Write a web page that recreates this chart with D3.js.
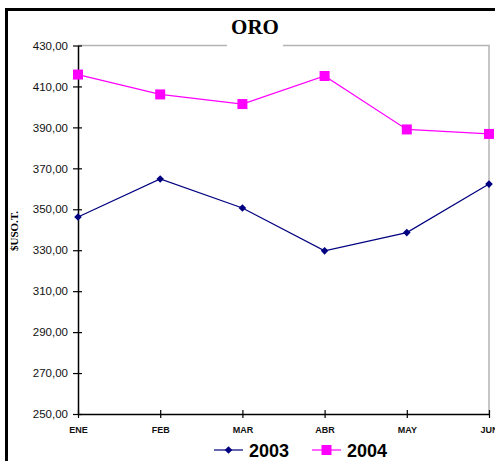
<!DOCTYPE html>
<html lang="es">
<head>
<meta charset="UTF-8" />
<script src="https://d3js.org/d3.v7.min.js"></script>
<style>
  body { margin: 0; background: #fff; }
  svg { display: block; }
</style>
</head>
<body>
<script>
  // data
  var months = ["ENE", "FEB", "MAR", "ABR", "MAY", "JUN"];
  var values2003 = [346.2, 364.8, 350.6, 329.7, 338.6, 362.3];
  var values2004 = [415.8, 406.1, 401.4, 415.1, 389.0, 386.8];
  var yTicks = [250, 270, 290, 310, 330, 350, 370, 390, 410, 430];

  var series = [
    { name: "2003", values: values2003, color: "#000080", marker: "diamond" },
    { name: "2004", values: values2004, color: "#FF00FF", marker: "square" }
  ];

  var width = 495, height = 461;
  var margin = { top: 45.5, right: 6, bottom: 47, left: 78 };

  var svg = d3.select("body").append("svg")
    .attr("width", width)
    .attr("height", height);

  // outer frame (cut by the window on the right and bottom)
  svg.append("path")
    .attr("d", "M6.5,470V9.5H520")
    .attr("fill", "none")
    .attr("stroke", "#000")
    .attr("stroke-width", 3);

  var x = d3.scalePoint()
    .domain(months)
    .range([margin.left, width - margin.right]);

  var y = d3.scaleLinear()
    .domain([250, 430])
    .range([height - margin.bottom, margin.top]);

  // plot area frame (top and right in grey)
  svg.append("path")
    .attr("d", "M" + x.range()[0] + "," + y(430) + "H" + x.range()[1] + "V" + y(250))
    .attr("fill", "none")
    .attr("stroke", "#b4b4b4")
    .attr("stroke-width", 1.5);

  // y axis
  var yAxis = svg.append("g")
    .attr("transform", "translate(" + x.range()[0] + ",0)")
    .call(d3.axisLeft(y).tickValues(yTicks).tickSize(0)
      .tickFormat(function (d) { return d3.format(".2f")(d).replace(".", ","); }));
  yAxis.select(".domain").attr("stroke", "#000").attr("stroke-width", 1.5);
  yAxis.selectAll(".tick text")
    .attr("x", -10)
    .style("font-family", "Liberation Sans, Arial, sans-serif")
    .style("font-size", "11.5px")
    .attr("fill", "#111");
  yAxis.selectAll(".tick").append("line")
    .attr("x1", -5).attr("x2", 4)
    .attr("stroke", "#000").attr("stroke-width", 1.2);

  // x axis
  var xAxis = svg.append("g")
    .attr("transform", "translate(0," + y(250) + ")")
    .call(d3.axisBottom(x).tickSize(0));
  xAxis.select(".domain").attr("stroke", "#000").attr("stroke-width", 1.5);
  xAxis.selectAll(".tick").append("line")
    .attr("y1", -4).attr("y2", 4)
    .attr("stroke", "#000").attr("stroke-width", 1.2);
  xAxis.selectAll(".tick text")
    .attr("y", 13)
    .style("font-family", "Liberation Sans, Arial, sans-serif")
    .style("font-size", "9px")
    .style("font-weight", "bold")
    .attr("fill", "#111");

  // title with white background over the frame
  svg.append("rect")
    .attr("x", 227).attr("y", 40).attr("width", 56).attr("height", 8)
    .attr("fill", "#fff");
  svg.append("text")
    .attr("x", 255).attr("y", 34)
    .attr("text-anchor", "middle")
    .style("font-family", "Liberation Serif, Times New Roman, serif")
    .style("font-size", "21px")
    .style("font-weight", "bold")
    .text("ORO");

  // y axis title
  svg.append("text")
    .attr("transform", "translate(18,231) rotate(-90)")
    .attr("text-anchor", "middle")
    .style("font-family", "Liberation Serif, Times New Roman, serif")
    .style("font-size", "11px")
    .style("font-weight", "bold")
    .text("$USO.T.");

  var line = d3.line()
    .x(function (d, i) { return x(months[i]); })
    .y(function (d) { return y(d); });

  function drawMarker(g, type, color) {
    if (type === "square") {
      g.append("rect")
        .attr("x", -5).attr("y", -5).attr("width", 10).attr("height", 10)
        .attr("fill", color);
    } else {
      g.append("path")
        .attr("d", "M0,-3.8L3.8,0L0,3.8L-3.8,0Z")
        .attr("fill", color);
    }
  }

  series.forEach(function (s) {
    svg.append("path")
      .datum(s.values)
      .attr("d", line)
      .attr("fill", "none")
      .attr("stroke", s.color)
      .attr("stroke-width", 1.2);

    s.values.forEach(function (v, i) {
      var g = svg.append("g")
        .attr("transform", "translate(" + x(months[i]) + "," + y(v) + ")");
      drawMarker(g, s.marker, s.color);
    });
  });

  // legend
  var legendX = [214, 312];
  series.forEach(function (s, i) {
    var g = svg.append("g")
      .attr("transform", "translate(" + legendX[i] + ",450)");
    g.append("line")
      .attr("x1", 0).attr("x2", 29)
      .attr("stroke", s.color).attr("stroke-width", 1.2);
    var m = g.append("g").attr("transform", "translate(14.5,0)");
    drawMarker(m, s.marker, s.color);
    g.append("text")
      .attr("x", 35).attr("y", 6.5)
      .style("font-family", "Liberation Sans, Arial, sans-serif")
      .style("font-size", "18px")
      .style("font-weight", "bold")
      .text(s.name);
  });
</script>
</body>
</html>
